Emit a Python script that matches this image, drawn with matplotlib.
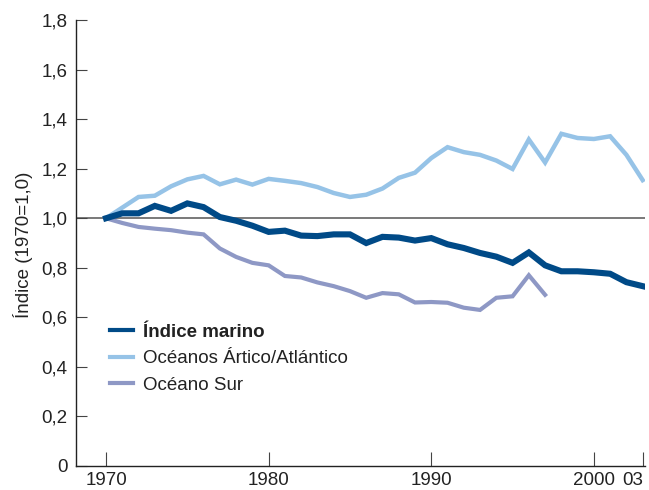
import matplotlib.pyplot as plt

plt.rcParams["font.family"] = ["Liberation Sans", "DejaVu Sans"]

# datos
years = list(range(1970, 2004))
indice_marino = [1.00, 1.02, 1.02, 1.05, 1.03, 1.06, 1.045, 1.005, 0.99, 0.97,
                 0.945, 0.95, 0.93, 0.928, 0.935, 0.935, 0.90, 0.925, 0.922, 0.91,
                 0.92, 0.895, 0.88, 0.86, 0.845, 0.82, 0.862, 0.81, 0.786, 0.786,
                 0.782, 0.776, 0.742, 0.726]
artico_atlantico = [1.00, 1.043, 1.086, 1.091, 1.129, 1.157, 1.171, 1.137, 1.156, 1.136,
                    1.159, 1.151, 1.142, 1.126, 1.102, 1.086, 1.095, 1.12, 1.163, 1.184,
                    1.243, 1.287, 1.267, 1.256, 1.233, 1.199, 1.318, 1.225, 1.341, 1.324,
                    1.32, 1.331, 1.256, 1.154]
years_sur = list(range(1970, 1998))
oceano_sur = [1.00, 0.981, 0.965, 0.958, 0.952, 0.942, 0.935, 0.878, 0.844, 0.82,
              0.81, 0.767, 0.761, 0.741, 0.726, 0.706, 0.679, 0.698, 0.693, 0.66,
              0.662, 0.659, 0.639, 0.63, 0.679, 0.685, 0.77, 0.691]

xticks = [1970, 1980, 1990, 2000, 2003]
xticklabels = ["1970", "1980", "1990", "2000", "03"]
yticks = [0, 0.2, 0.4, 0.6, 0.8, 1.0, 1.2, 1.4, 1.6, 1.8]
yticklabels = ["0", "0,2", "0,4", "0,6", "0,8", "1,0", "1,2", "1,4", "1,6", "1,8"]

fig = plt.figure(figsize=(6.49, 4.9), dpi=100)
ax = fig.add_axes([0.117, 0.049, 0.877, 0.91])

ax.axhline(1.0, color="#555555", lw=1.1, zorder=1)

ax.plot(years, artico_atlantico, color="#96c3e7", lw=3.2, label="Océanos Ártico/Atlántico",
        solid_joinstyle="miter", zorder=2)
ax.plot(years_sur, oceano_sur, color="#8e98c5", lw=3.0, label="Océano Sur",
        solid_joinstyle="miter", zorder=2)
ax.plot(years, indice_marino, color="#004a87", lw=4.4, label="Índice marino",
        solid_joinstyle="miter", zorder=3)

ax.set_xlim(1968.15, 2003.15)
ax.set_ylim(0, 1.8)
ax.set_xticks(xticks)
ax.set_xticklabels(xticklabels)
ax.set_yticks(yticks)
ax.set_yticklabels(yticklabels)

for s in ["top", "right"]:
    ax.spines[s].set_visible(False)
for s in ["left", "bottom"]:
    ax.spines[s].set_color("#222222")
    ax.spines[s].set_linewidth(1.0)

ax.tick_params(axis="x", direction="in", length=10, width=0.8, color="#444444",
               labelsize=13.5, pad=4, labelcolor="#222222")
ax.tick_params(axis="y", direction="in", length=8, width=0.8, color="#444444",
               labelsize=13.5, pad=6, labelcolor="#222222")

# "03" se alinea a la derecha para que quepa
xl = ax.get_xticklabels()
xl[-1].set_horizontalalignment("right")
xl[-2].set_horizontalalignment("center")

ax.set_ylabel("Índice (1970=1,0)", fontsize=13.5, color="#222222")
ax.yaxis.set_label_coords(-0.076, 0.495)

handles, labels = ax.get_legend_handles_labels()
order = [2, 0, 1]
leg = ax.legend([handles[i] for i in order], [labels[i] for i in order],
                loc="upper left", bbox_to_anchor=(0.03, 0.357), frameon=False,
                fontsize=13.5, handlelength=1.25, handletextpad=0.5, labelspacing=0.5)
for h in leg.get_lines():
    h.set_linewidth(3.0)
leg.get_texts()[0].set_fontweight("bold")
for t in leg.get_texts():
    t.set_color("#222222")

plt.savefig("out.png", dpi=100)
